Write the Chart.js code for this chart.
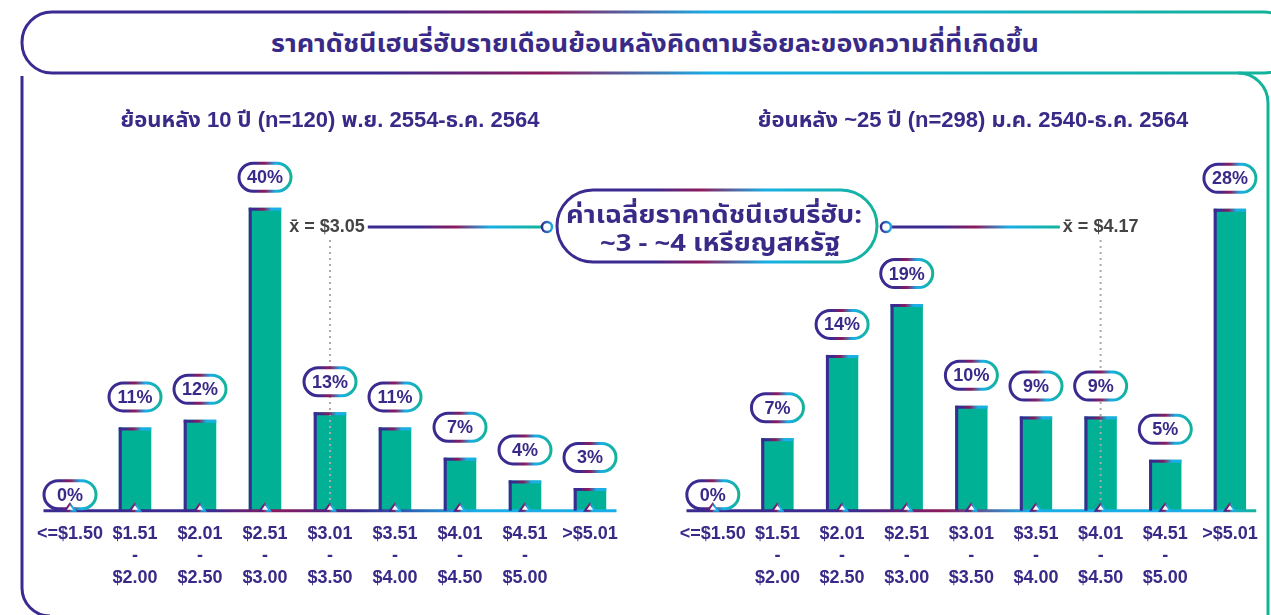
<!DOCTYPE html>
<html>
<head>
<meta charset="utf-8">
<script src="https://cdn.jsdelivr.net/npm/chart.js@4.4.0/dist/chart.umd.min.js"></script>
<style>
  html, body { margin: 0; padding: 0; background: #fff; }
  body { width: 1271px; height: 615px; position: relative; overflow: hidden; }
  svg { position: absolute; left: 0; top: 0; }
  .box { position: absolute; top: 0; height: 615px; }
  #leftBox { left: 0; width: 640px; }
  #rightBox { left: 640px; width: 631px; }
</style>
</head>
<body>

<svg width="1271" height="615" id="frame">
  <defs>
    <linearGradient id="gFrame" gradientUnits="userSpaceOnUse" x1="0" y1="0" x2="1271" y2="0">
      <stop offset="0" stop-color="#3B2A8F"/>
      <stop offset="0.3" stop-color="#3B2A8F"/>
      <stop offset="0.43" stop-color="#8E1A5C"/>
      <stop offset="0.56" stop-color="#19AEE6"/>
      <stop offset="0.75" stop-color="#17B0C8"/>
      <stop offset="1" stop-color="#13B39A"/>
    </linearGradient>
  </defs>
  <rect x="22" y="12" width="1272" height="61" rx="30" ry="30" fill="#fff" stroke="url(#gFrame)" stroke-width="3"/>
  <path d="M22 76 V588 A28 28 0 0 0 50 616" fill="none" stroke="#3B2A8F" stroke-width="3"/>
  <path d="M1238 73 A30 30 0 0 1 1268 103 V640" fill="none" stroke="url(#gFrame)" stroke-width="3"/>
  <text x="655" y="52" text-anchor="middle" fill="#3A2A88" font-family="'Noto Sans Thai', 'Noto Sans', sans-serif" font-weight="bold" font-size="25" textLength="768" lengthAdjust="spacingAndGlyphs">ราคาดัชนีเฮนรี่ฮับรายเดือนย้อนหลังคิดตามร้อยละของความถี่ที่เกิดขึ้น</text>
</svg>

<div class="box" id="leftBox"><canvas id="chartLeft"></canvas></div>
<div class="box" id="rightBox"><canvas id="chartRight"></canvas></div>

<svg width="1271" height="615" id="callout" style="pointer-events:none">
  <defs>
    <linearGradient id="gCall" x1="0" y1="0" x2="1" y2="0">
      <stop offset="0" stop-color="#3B2A8F"/>
      <stop offset="0.3" stop-color="#3B2A8F"/>
      <stop offset="0.45" stop-color="#8E1A5C"/>
      <stop offset="0.65" stop-color="#19AEE6"/>
      <stop offset="1" stop-color="#13B39A"/>
    </linearGradient>
  </defs>
  <rect x="557" y="190" width="320" height="72" rx="36" ry="36" fill="#fff" stroke="url(#gCall)" stroke-width="3"/>
  <text x="714" y="223" text-anchor="middle" fill="#3A2A88" font-family="'Noto Sans Thai', 'Noto Sans', sans-serif" font-weight="bold" font-size="24" textLength="296" lengthAdjust="spacingAndGlyphs">ค่าเฉลี่ยราคาดัชนีเฮนรี่ฮับ:</text>
  <text x="720" y="251" text-anchor="middle" fill="#3A2A88" font-family="'Noto Sans Thai', 'Noto Sans', sans-serif" font-weight="bold" font-size="24" textLength="240" lengthAdjust="spacingAndGlyphs">~3 - ~4 เหรียญสหรัฐ</text>
</svg>

<script>
// ช่วงราคา (เหรียญสหรัฐ)
const categories = [
  ['<=$1.50'],
  ['$1.51', '-', '$2.00'],
  ['$2.01', '-', '$2.50'],
  ['$2.51', '-', '$3.00'],
  ['$3.01', '-', '$3.50'],
  ['$3.51', '-', '$4.00'],
  ['$4.01', '-', '$4.50'],
  ['$4.51', '-', '$5.00'],
  ['>$5.01']
];

// ย้อนหลัง 10 ปี (%)
const share10y = [0, 11, 12, 40, 13, 11, 7, 4, 3];
// ย้อนหลัง ~25 ปี (%)
const share25y = [0, 6.7, 14.4, 19.1, 9.7, 8.7, 8.7, 4.7, 27.9];

const meanLabels = ['x\u0304 = $3.05', 'x\u0304 = $4.17'];
const meanBins = [4, 6];   // ช่วงที่ค่าเฉลี่ยตกอยู่

const subtitles = [
  'ย้อนหลัง 10 ปี (n=120) พ.ย. 2554-ธ.ค. 2564',
  'ย้อนหลัง ~25 ปี (n=298) ม.ค. 2540-ธ.ค. 2564'
];

const INDIGO = '#3A2A88';
const TEAL = '#00B196';
const P = '#3B2A8F', M = '#8E1A5C', C = '#19AEE6', T = '#13B39A';

function grad(ctx, x1, x2, stops) {
  const g = ctx.createLinearGradient(x1, 0, x2, 0);
  stops.forEach(s => g.addColorStop(s[0], s[1]));
  return g;
}

function roundRect(ctx, x, y, w, h, r) {
  ctx.beginPath();
  ctx.moveTo(x + r, y);
  ctx.lineTo(x + w - r, y);
  ctx.arc(x + w - r, y + r, r, -Math.PI / 2, Math.PI / 2);
  ctx.lineTo(x + r, y + h);
  ctx.arc(x + r, y + r, r, Math.PI / 2, Math.PI * 1.5);
  ctx.closePath();
}

const decor = {
  id: 'decor',
  afterDatasetsDraw(chart, args, opts) {
    const ctx = chart.ctx;
    const area = chart.chartArea;
    const xs = chart.scales.x, ys = chart.scales.y;
    const base = ys.getPixelForValue(0);
    const meta = chart.getDatasetMeta(0);
    const values = chart.data.datasets[0].data;
    ctx.save();

    // เส้นฐาน
    ctx.strokeStyle = grad(ctx, area.left, area.right, opts.baseStops);
    ctx.lineWidth = 3;
    ctx.beginPath();
    ctx.moveTo(area.left + 6, base);
    ctx.lineTo(area.right - 6, base);
    ctx.stroke();

    // เส้นค่าเฉลี่ย
    const mx = xs.getPixelForValue(opts.meanBin);
    const my = 227;
    ctx.strokeStyle = '#aaaaaa';
    ctx.lineWidth = 2;
    ctx.setLineDash([2, 4]);
    ctx.beginPath();
    ctx.moveTo(mx, 240);
    ctx.lineTo(mx, base - 2);
    ctx.stroke();
    ctx.setLineDash([]);

    ctx.font = 'bold 18px "Liberation Sans", Arial, sans-serif';
    ctx.fillStyle = '#444444';
    ctx.textAlign = 'center';
    ctx.textBaseline = 'middle';
    const tx = mx + opts.meanShift;
    ctx.fillText(opts.meanLabel, tx, my);
    const tw = ctx.measureText(opts.meanLabel).width;
    const dotX = opts.dotX - chart.canvas.parentNode.offsetLeft;
    let a, b;
    if (dotX > tx) { a = tx + tw / 2 + 3; b = dotX - 5; }
    else { a = dotX + 5; b = tx - tw / 2 - 3; }
    ctx.strokeStyle = grad(ctx, a, b, [[0, P], [0.3, P], [0.5, M], [0.7, C], [1, T]]);
    ctx.lineWidth = 3;
    ctx.beginPath();
    ctx.moveTo(a, my);
    ctx.lineTo(b, my);
    ctx.stroke();
    ctx.beginPath();
    ctx.arc(dotX, my, 5, 0, Math.PI * 2);
    ctx.fillStyle = '#fff';
    ctx.fill();
    ctx.strokeStyle = grad(ctx, dotX - 5, dotX + 5, [[0, P], [1, C]]);
    ctx.lineWidth = 2.5;
    ctx.stroke();

    meta.data.forEach((bar, i) => {
      const p = bar.getProps(['x', 'y', 'width'], true);
      const l = p.x - p.width / 2, r = p.x + p.width / 2;
      if (values[i] > 0) {
        ctx.strokeStyle = P;
        ctx.lineWidth = 3;
        ctx.beginPath();
        ctx.moveTo(l + 1.5, base);
        ctx.lineTo(l + 1.5, p.y);
        ctx.stroke();
        ctx.strokeStyle = grad(ctx, l, r, [[0, P], [0.2, P], [0.45, M], [0.7, C], [1, C]]);
        ctx.beginPath();
        ctx.moveTo(l, p.y + 1.5);
        ctx.lineTo(r, p.y + 1.5);
        ctx.stroke();
      }

      // ป้ายเปอร์เซ็นต์
      const pw = 52, ph = 28;
      const py = values[i] > 0 ? p.y - 16.5 - ph : base - ph - 2;
      roundRect(ctx, p.x - pw / 2, py, pw, ph, ph / 2);
      ctx.fillStyle = '#fff';
      ctx.fill();
      ctx.strokeStyle = grad(ctx, p.x - pw / 2, p.x + pw / 2, [[0, P], [0.3, P], [0.5, M], [0.7, C], [1, T]]);
      ctx.lineWidth = 3;
      ctx.stroke();
      ctx.fillStyle = INDIGO;
      ctx.font = 'bold 18px "Liberation Sans", Arial, sans-serif';
      ctx.fillText(Math.round(values[i]) + '%', p.x, py + ph / 2 + 1);

      // สามเหลี่ยมที่ฐาน
      ctx.beginPath();
      ctx.moveTo(p.x - 5, base);
      ctx.lineTo(p.x, base - 7);
      ctx.lineTo(p.x + 5, base);
      ctx.closePath();
      ctx.fillStyle = '#fff';
      ctx.fill();
      ctx.strokeStyle = grad(ctx, p.x - 5, p.x + 5, [[0, P], [0.4, M], [0.7, C], [1, C]]);
      ctx.lineWidth = 2;
      ctx.stroke();
    });
    ctx.restore();
  }
};

function makeChart(id, values, yMax, subtitle, pad, decorOpts) {
  return new Chart(document.getElementById(id), {
    type: 'bar',
    data: {
      labels: categories,
      datasets: [{
        data: values,
        backgroundColor: TEAL,
        borderWidth: 0,
        barPercentage: 0.5,
        categoryPercentage: 1
      }]
    },
    options: {
      responsive: true,
      maintainAspectRatio: false,
      animation: false,
      layout: { padding: pad },
      plugins: {
        legend: { display: false },
        tooltip: { enabled: false },
        title: {
          display: true,
          text: subtitle,
          color: INDIGO,
          font: { family: '"Liberation Sans", "Noto Sans Thai", Arial, sans-serif', size: 22, weight: 'bold', lineHeight: 1.0 },
          padding: { top: 110, bottom: 0 }
        },
        decor: decorOpts
      },
      scales: {
        x: {
          grid: { display: false, drawTicks: false },
          border: { display: false },
          ticks: {
            color: INDIGO,
            font: { family: '"Liberation Sans", Arial, sans-serif', size: 18, weight: 'bold', lineHeight: 1.2 },
            padding: 13,
            maxRotation: 0,
            autoSkip: false
          }
        },
        y: {
          display: false,
          min: 0,
          max: yMax
        }
      }
    },
    plugins: [decor]
  });
}

makeChart('chartLeft', share10y, 50, subtitles[0],
  { left: 37.5, right: 17.5, top: 0, bottom: 13.5 },
  { meanBin: meanBins[0], meanLabel: meanLabels[0], meanShift: -3, dotX: 547,
    baseStops: [[0, P], [0.3, P], [0.4, M], [0.55, P], [0.75, C], [1, C]] });

makeChart('chartRight', share25y, 35, subtitles[1],
  { left: 40.5, right: 5.5, top: 0, bottom: 13.5 },
  { meanBin: meanBins[1], meanLabel: meanLabels[1], meanShift: 0, dotX: 886,
    baseStops: [[0, P], [0.3, P], [0.45, M], [0.6, C], [0.9, C], [1, T]] });
</script>
</body>
</html>
